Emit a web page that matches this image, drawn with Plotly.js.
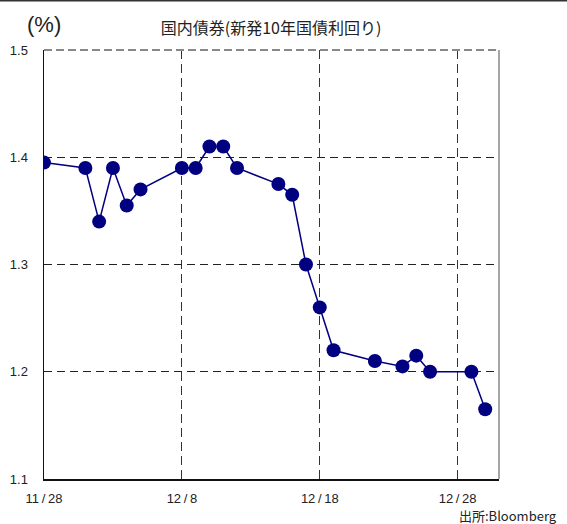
<!DOCTYPE html>
<html>
<head>
<meta charset="utf-8">
<script src="https://cdn.plot.ly/plotly-3.0.1.min.js"></script>
<style>
  html, body { margin: 0; padding: 0; background: #fff; }
  #chart { width: 567px; height: 524px; }
</style>
</head>
<body>
<div id="chart"></div>
<script>
// 新発10年国債利回り (%), business days 2008-11-28 .. 2008-12-30
const dates = [
  '2008-11-28',
  '2008-12-01', '2008-12-02', '2008-12-03', '2008-12-04', '2008-12-05',
  '2008-12-08', '2008-12-09', '2008-12-10', '2008-12-11', '2008-12-12',
  '2008-12-15', '2008-12-16', '2008-12-17', '2008-12-18', '2008-12-19',
  '2008-12-22', '2008-12-24', '2008-12-25', '2008-12-26',
  '2008-12-29', '2008-12-30'
];
const yields = [
  1.395,
  1.39, 1.34, 1.39, 1.355, 1.37,
  1.39, 1.39, 1.41, 1.41, 1.39,
  1.375, 1.365, 1.30, 1.26, 1.22,
  1.21, 1.205, 1.215, 1.20,
  1.20, 1.165
];

const xTickVals = ['2008-11-28', '2008-12-08', '2008-12-18', '2008-12-28'];
const xTickText = ['11\u2009/\u200928', '12\u2009/\u20098', '12\u2009/\u200918', '12\u2009/\u200928'];
const yTickVals = [1.1, 1.2, 1.3, 1.4, 1.5];
const yTickText = ['1.1', '1.2', '1.3', '1.4', '1.5'];

const titleText = '国内債券(新発10年国債利回り)';
const unitText = '(%)';
const sourceText = '出所:Bloomberg';

const navy = '#000080';
const latin = 'Liberation Sans, Arial, sans-serif';
const cjk = 'Noto Sans CJK JP, sans-serif';

const trace = {
  x: dates,
  y: yields,
  type: 'scatter',
  mode: 'lines+markers',
  line: { color: navy, width: 1.5 },
  marker: { color: navy, size: 14 },
  hoverinfo: 'x+y'
};

const layout = {
  width: 567,
  height: 524,
  margin: { l: 44, r: 68, t: 50, b: 45 },
  paper_bgcolor: '#fff',
  plot_bgcolor: '#fff',
  showlegend: false,
  title: {
    text: titleText,
    font: { family: cjk, size: 16, color: '#222' },
    xref: 'container', yref: 'container',
    x: 0.478, y: 1 - 28 / 524,
    xanchor: 'center', yanchor: 'middle'
  },
  xaxis: {
    type: 'date',
    range: ['2008-11-28', '2008-12-31'],
    tickmode: 'array',
    tickvals: xTickVals,
    ticktext: xTickText,
    ticks: '',
    ticklabelstandoff: 7,
    tickfont: { family: latin, size: 13, color: '#222' },
    showgrid: true,
    gridcolor: '#333',
    gridwidth: 1,
    griddash: '9px,5px',
    showline: true,
    linecolor: '#111',
    linewidth: 1.5,
    zeroline: false,
    fixedrange: true
  },
  yaxis: {
    range: [1.1, 1.5],
    tickmode: 'array',
    tickvals: yTickVals,
    ticktext: yTickText,
    ticks: '',
    ticklabelstandoff: 12,
    tickfont: { family: latin, size: 13, color: '#222' },
    showgrid: true,
    gridcolor: '#222',
    gridwidth: 1,
    griddash: '8px,5px',
    showline: true,
    linecolor: '#111',
    linewidth: 1.5,
    zeroline: false,
    fixedrange: true
  },
  shapes: [
    // top frame edge (dashed grey)
    { type: 'line', xref: 'paper', yref: 'paper', x0: 0, x1: 1, y0: 1, y1: 1,
      line: { color: '#888', width: 2, dash: '8px,4px' } },
    // right frame edge
    { type: 'line', xref: 'paper', yref: 'paper', x0: 1, x1: 1, y0: 0, y1: 1,
      line: { color: '#888', width: 1.5 } },
    // rule across the top of the page
    { type: 'line', xref: 'paper', yref: 'paper', x0: -0.1, x1: 1.16, y0: 1.1155, y1: 1.1155,
      line: { color: '#333', width: 2 } }
  ],
  annotations: [
    { text: unitText, xref: 'paper', yref: 'paper', x: 0.0, y: (479 - 24) / 429,
      xanchor: 'center', yanchor: 'middle', showarrow: false,
      font: { family: latin, size: 22, color: '#222' } },
    { text: sourceText, xref: 'paper', yref: 'paper', x: (457 - 44) / 455, y: (479 - 515) / 429,
      xanchor: 'left', yanchor: 'middle', showarrow: false,
      font: { family: cjk, size: 13, color: '#222' } }
  ]
};

Plotly.newPlot('chart', [trace], layout, { displayModeBar: false, staticPlot: true });
</script>
</body>
</html>
